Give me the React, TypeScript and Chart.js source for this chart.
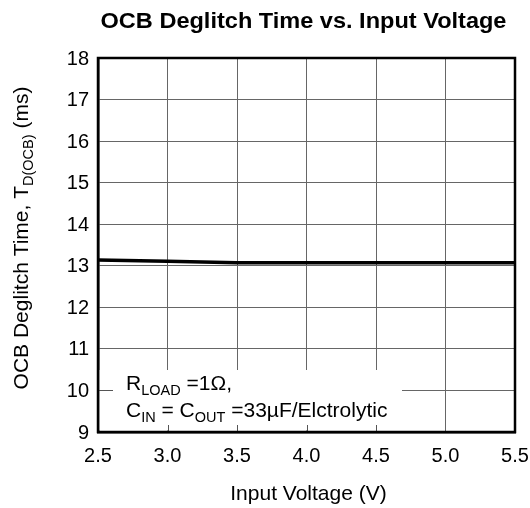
import React, { useEffect, useRef } from "react";
import { Chart, registerables } from "chart.js";

Chart.register(...registerables);

const voltages = [2.5, 3.0, 3.5, 4.0, 4.5, 5.0, 5.5];
const deglitchTime = [13.14, 13.11, 13.07, 13.07, 13.07, 13.07, 13.07];
const xTickValues = [2.5, 3.0, 3.5, 4.0, 4.5, 5.0, 5.5];
const yTickValues = [9, 10, 11, 12, 13, 14, 15, 16, 17, 18];
const chartTitle = "OCB Deglitch Time vs. Input Voltage";
const xAxisTitle = "Input Voltage (V)";
const yAxisTitle = [
  { t: "OCB Deglitch Time, T" },
  { t: "D(OCB)", sub: true },
  { t: " (ms)" },
];
const noteLines = [
  [{ t: "R" }, { t: "LOAD", sub: true }, { t: " =1Ω," }],
  [
    { t: "C" },
    { t: "IN", sub: true },
    { t: " = C" },
    { t: "OUT", sub: true },
    { t: " =33µF/Elctrolytic" },
  ],
];

type Seg = { t: string; sub?: boolean };

const FAMILY = '"Liberation Sans", Arial, Helvetica, sans-serif';
const TICK = 20;

function segWidth(ctx: CanvasRenderingContext2D, segs: Seg[], main: number, sub: number) {
  let w = 0;
  for (const s of segs) {
    ctx.font = `${s.sub ? sub : main}px ${FAMILY}`;
    w += ctx.measureText(s.t).width;
  }
  return w;
}

function drawSegs(
  ctx: CanvasRenderingContext2D,
  segs: Seg[],
  x: number,
  y: number,
  main: number,
  sub: number
) {
  let cx = x;
  ctx.textAlign = "left";
  ctx.textBaseline = "alphabetic";
  for (const s of segs) {
    ctx.font = `${s.sub ? sub : main}px ${FAMILY}`;
    ctx.fillText(s.t, cx, s.sub ? y + 5 : y);
    cx += ctx.measureText(s.t).width;
  }
}

const customPlugin = {
  id: "custom",
  beforeDatasetsDraw(chart: any) {
    const ctx = chart.ctx as CanvasRenderingContext2D;
    const { left, bottom } = chart.chartArea;
    const xs = chart.scales.x;
    const ys = chart.scales.y;
    ctx.save();
    const boxRight = 402;
    const boxTop = 370;
    ctx.fillStyle = "#fff";
    ctx.fillRect(left + 1.5, boxTop, boxRight - left - 1.5, bottom - 1.5 - boxTop);
    ctx.strokeStyle = "#555";
    ctx.lineWidth = 1;
    const y10 = Math.round(ys.getPixelForValue(10)) + 0.5;
    ctx.beginPath();
    ctx.moveTo(left, y10);
    ctx.lineTo(left + 15, y10);
    for (const v of xTickValues) {
      const px = Math.round(xs.getPixelForValue(v)) + 0.5;
      if (px > left + 3 && px < boxRight) {
        ctx.moveTo(px, bottom);
        ctx.lineTo(px, bottom - 7);
      }
    }
    ctx.stroke();
    ctx.fillStyle = "#000";
    drawSegs(ctx, noteLines[0], 126, 390, 21, 14.5);
    drawSegs(ctx, noteLines[1], 126, 417, 21, 14.5);
    ctx.restore();
  },
  afterDraw(chart: any) {
    const ctx = chart.ctx as CanvasRenderingContext2D;
    const { left, right, top, bottom } = chart.chartArea;
    const xs = chart.scales.x;
    const ys = chart.scales.y;
    ctx.save();
    ctx.strokeStyle = "#000";
    ctx.lineWidth = 2.5;
    ctx.strokeRect(left, top, right - left, bottom - top);
    ctx.fillStyle = "#000";
    ctx.font = `${TICK}px ${FAMILY}`;
    ctx.textAlign = "right";
    ctx.textBaseline = "middle";
    for (const v of yTickValues) {
      ctx.fillText(String(v), 89, ys.getPixelForValue(v) + 1);
    }
    ctx.textAlign = "center";
    ctx.textBaseline = "alphabetic";
    for (const v of xTickValues) {
      ctx.fillText(v.toFixed(1), xs.getPixelForValue(v), 462);
    }
    ctx.font = `21px ${FAMILY}`;
    ctx.fillText(xAxisTitle, (left + right) / 2 + 2, 500);
    ctx.font = `bold 22px ${FAMILY}`;
    const tw = ctx.measureText(chartTitle).width;
    ctx.save();
    ctx.translate(303.5, 28);
    ctx.scale(1.07, 1);
    ctx.textAlign = "left";
    ctx.fillText(chartTitle, -tw / 2, 0);
    ctx.restore();
    const yw = segWidth(ctx, yAxisTitle, 21, 14.5);
    ctx.save();
    ctx.translate(28, 238);
    ctx.rotate(-Math.PI / 2);
    drawSegs(ctx, yAxisTitle, -yw / 2, 0, 21, 14.5);
    ctx.restore();
    ctx.restore();
  },
};

export default function App() {
  const ref = useRef<HTMLCanvasElement | null>(null);
  useEffect(() => {
    document.body.style.margin = "0";
    const canvas = ref.current;
    if (!canvas) return;
    const chart = new Chart(canvas, {
      type: "line",
      data: {
        datasets: [
          {
            data: voltages.map((x, i) => ({ x, y: deglitchTime[i] })),
            borderColor: "#000",
            borderWidth: 3.5,
            pointRadius: 0,
            tension: 0,
            fill: false,
          },
        ],
      },
      options: {
        animation: false,
        responsive: false,
        maintainAspectRatio: false,
        devicePixelRatio: 1,
        layout: { padding: { left: 98, right: 15, top: 58, bottom: 76 } },
        plugins: {
          legend: { display: false },
          title: { display: false },
          tooltip: { enabled: false },
        },
        scales: {
          x: {
            type: "linear",
            min: 2.5,
            max: 5.5,
            ticks: { display: false, stepSize: 0.5 },
            grid: { color: "#666", lineWidth: 1, drawTicks: false },
            border: { color: "#000", width: 2.5 },
          },
          y: {
            type: "linear",
            min: 9,
            max: 18,
            ticks: { display: false, stepSize: 1 },
            grid: { color: "#666", lineWidth: 1, drawTicks: false },
            border: { color: "#000", width: 2.5 },
          },
        },
      },
      plugins: [customPlugin],
    } as any);
    return () => chart.destroy();
  }, []);
  return (
    <div style={{ width: 530, height: 508 }}>
      <canvas ref={ref} width={530} height={508} style={{ display: "block", width: 530, height: 508 }} />
    </div>
  );
}
